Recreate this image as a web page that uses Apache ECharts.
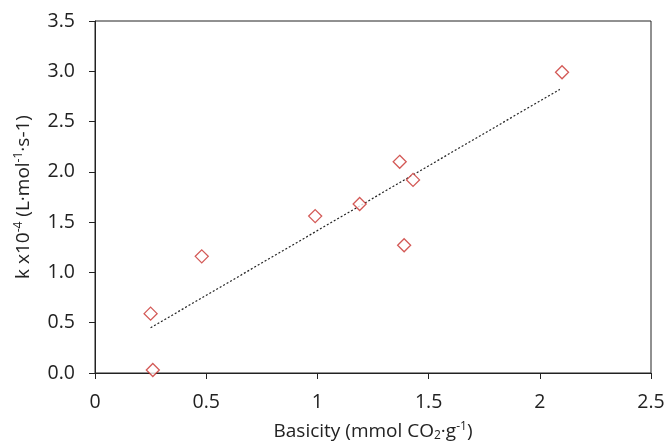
<!DOCTYPE html>
<html>
<head>
<meta charset="utf-8">
<script src="https://cdn.jsdelivr.net/npm/echarts@6/dist/echarts.min.js"></script>
<style>
  html, body { margin: 0; padding: 0; background: #fff; }
  #chart { width: 666px; height: 444px; }
</style>
</head>
<body>
<div id="chart"></div>
<script>
// basicity (mmol CO2/g) vs rate constant k x10^-4
const basicity = [0.25, 0.26, 0.48, 0.99, 1.19, 1.37, 1.43, 1.39, 2.10]
const kValues = [0.59, 0.03, 1.16, 1.56, 1.68, 2.10, 1.92, 1.27, 2.99]
// linear trendline end points
const trendX = [0.25, 2.09]
const trendY = [0.45, 2.82]

const font = '"Open Sans", Lato, sans-serif'

const chart = echarts.init(document.getElementById('chart'))
chart.setOption({
  animation: false,
  grid: {
    left: 95,
    right: 15,
    top: 21,
    bottom: 71,
    outerBoundsMode: 'none',
    containLabel: false,
    show: true,
    borderColor: '#222',
    borderWidth: 1,
  },
  xAxis: {
    type: 'value',
    min: 0,
    max: 2.5,
    interval: 0.5,
    name: '{n|Basicity (mmol CO}{sub|2}{n|·g}{sup|-1}{n|)}',
    nameLocation: 'middle',
    nameGap: 48,
    nameTextStyle: {
      fontFamily: font,
      rich: {
        n: { fontSize: 19, color: '#222', fontFamily: font },
        sub: { fontSize: 12, color: '#222', fontFamily: font, padding: [9, 0, 0, 0] },
        sup: { fontSize: 12, color: '#222', fontFamily: font, padding: [0, 0, 9, 0] },
      },
    },
    axisLine: { lineStyle: { color: '#222' } },
    axisTick: { show: true, inside: false, length: 6, lineStyle: { color: '#222' } },
    axisLabel: {
      fontSize: 19.5,
      color: '#222',
      fontFamily: font,
      margin: 19,
      formatter: (v) => String(v),
    },
    splitLine: { show: false },
  },
  yAxis: {
    type: 'value',
    min: 0,
    max: 3.5,
    interval: 0.5,
    name: '{n|k x10}{sup|-4}{n| (L·mol}{sup|-1}{n|·s-1)}',
    nameLocation: 'middle',
    nameGap: 61,
    nameRotate: 90,
    nameTextStyle: {
      fontFamily: font,
      rich: {
        n: { fontSize: 19, color: '#222', fontFamily: font },
        sup: { fontSize: 12, color: '#222', fontFamily: font, padding: [0, 0, 9, 0] },
      },
    },
    axisLine: { show: true, lineStyle: { color: '#222' } },
    axisTick: { show: true, inside: false, length: 6, lineStyle: { color: '#222' } },
    axisLabel: {
      fontSize: 19.5,
      color: '#222',
      fontFamily: font,
      margin: 20,
      formatter: (v) => v.toFixed(1),
    },
    splitLine: { show: false },
  },
  series: [
    {
      type: 'line',
      data: trendX.map((x, i) => [x, trendY[i]]),
      showSymbol: false,
      symbol: 'none',
      lineStyle: { color: '#222', width: 1.2, type: [2, 2] },
      z: 1,
    },
    {
      type: 'scatter',
      data: basicity.map((x, i) => [x, kValues[i]]),
      symbol: 'diamond',
      symbolSize: [13, 13],
      itemStyle: { color: '#fff', borderColor: '#c8302c', borderWidth: 1.3 },
      z: 2,
    },
  ],
})
</script>
</body>
</html>
